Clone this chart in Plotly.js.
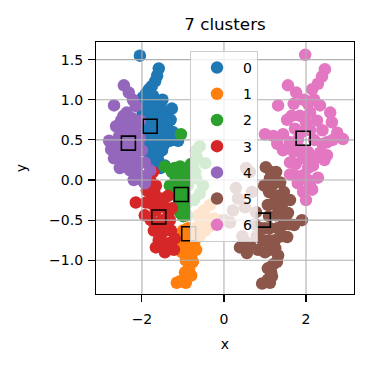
<!DOCTYPE html>
<html><head><meta charset="utf-8">
<script src="https://cdn.plot.ly/plotly-3.0.1.min.js"></script>
<style>html,body{margin:0;padding:0;background:#fff}</style>
</head><body><div id="chart" style="width:369px;height:369px"></div>
<script>
const clusterNames = ['0','1','2','3','4','5','6'];
const clusterColors = ['#1f77b4','#ff7f0e','#2ca02c','#d62728','#9467bd','#8c564b','#e377c2'];

const x0 = [-2.05,-1.59,-1.63,-1.68,-1.76,-1.83,-1.90,-1.98,-1.73,-1.80,-1.93,-1.68,-1.51,-1.61,-1.41,-1.80,-1.93,-1.49,-1.37,-1.63,-1.44,-1.32,-1.12,-1.56,-1.80,-1.88,-1.68,-1.51,-1.80,-1.61,-1.44,-1.88,-1.98,-2.00,-1.27,
  -1.85,-1.70,-1.55,-1.75,-1.65,-1.72,-1.55,-1.45,-1.35,-1.25,-1.95,-1.75,-1.60,-1.70,-1.55,-1.85,-1.50,-1.40,-1.30];
const y0 = [1.55,1.39,1.30,1.23,1.17,1.13,1.08,1.03,1.05,0.97,0.93,0.89,0.84,0.78,0.77,0.80,0.74,0.69,0.64,0.62,0.56,0.49,0.49,0.49,0.56,0.43,0.39,0.37,0.31,0.25,0.18,0.68,0.84,0.62,0.89,
  0.90,0.95,0.92,0.80,0.70,0.58,0.62,0.45,0.55,0.60,0.50,0.45,0.33,0.20,0.15,0.78,1.00,0.70,0.75];

const x1 = [-1.00,-0.88,-0.78,-1.12,-0.93,-0.73,-1.02,-0.83,-0.68,-0.93,-0.76,-0.85,-0.80,-0.95,-1.07,-1.15,-0.93,-0.63,-0.49,-0.39,-0.59,-0.46,-0.24,-0.10,-0.34,-0.59,
  -0.95,-0.85,-0.90,-0.80,-0.70,-0.50,-0.35];
const y1 = [-0.63,-0.60,-0.69,-0.77,-0.79,-0.81,-0.90,-0.90,-0.87,-1.00,-1.02,-1.10,-1.19,-1.15,-1.26,-1.28,-1.28,-0.44,-0.38,-0.48,-0.56,-0.63,-0.48,-0.50,-0.31,-0.70,
  -0.70,-0.75,-0.95,-0.95,-0.60,-0.50,-0.58];

const x2 = [-1.05,-1.44,-1.27,-1.07,-0.93,-1.17,-0.95,-0.83,-1.32,-1.07,-0.88,-1.17,-0.95,-1.12,-0.93,-1.07,-0.90,-0.68,-0.59,-0.66,-0.76,-0.68,-0.51,-0.59,-0.73,-0.46,
  -1.00,-1.10,-0.85,-1.00,-1.20,-0.80,-0.70];
const y2 = [0.57,0.17,0.10,0.17,0.12,0.02,0.02,0.10,-0.07,-0.10,-0.07,-0.19,-0.19,-0.31,-0.31,-0.41,-0.44,0.37,0.42,0.28,0.18,0.02,-0.07,-0.17,-0.25,0.21,
  0.05,-0.20,-0.25,-0.45,0.15,0.20,0.10];

const x3 = [-1.73,-1.80,-1.66,-1.88,-2.15,-1.90,-1.76,-1.54,-1.37,-1.46,-1.27,-1.66,-1.78,-1.93,-1.51,-1.32,-1.71,-1.49,-1.29,-1.20,-1.59,-1.39,-1.66,-1.22,-1.44,
  -1.60,-1.45,-1.60,-1.35,-1.55,-1.30,-1.75,-1.70];
const y3 = [0.10,0.00,-0.07,-0.13,-0.28,-0.28,-0.22,-0.23,-0.20,-0.33,-0.35,-0.38,-0.50,-0.44,-0.50,-0.50,-0.63,-0.65,-0.63,-0.73,-0.75,-0.79,-0.84,-0.87,-0.90,
  -0.30,-0.55,-0.55,-0.40,-0.75,-0.78,-0.30,-0.15];

const x4 = [-2.44,-2.32,-2.22,-2.68,-2.15,-2.37,-2.51,-2.24,-2.05,-2.63,-2.39,-2.15,-2.80,-2.56,-2.34,-2.05,-2.63,-2.44,-2.22,-2.00,-2.68,-2.41,-2.17,-1.93,-2.54,-2.29,-2.05,-1.93,-1.80,-2.10,
  -2.45,-2.30,-2.50,-2.20,-2.40,-2.60,-2.30,-2.10,-2.50,-2.35,-2.15,-2.00,-2.20,-1.90,-2.75,-2.55];
const y4 = [1.18,1.09,1.00,0.93,0.92,0.84,0.74,0.77,0.74,0.67,0.64,0.62,0.49,0.54,0.49,0.52,0.39,0.37,0.39,0.37,0.27,0.25,0.27,0.22,0.15,0.12,0.06,-0.04,0.12,0.18,
  0.80,0.65,0.55,0.55,0.45,0.45,0.35,0.45,0.30,0.20,0.10,0.00,0.00,0.05,0.38,0.65];

const x5 = [1.02,1.27,1.12,1.37,0.98,1.46,1.24,1.61,1.41,1.07,1.56,1.27,1.90,1.71,1.44,1.12,1.54,1.24,0.95,0.63,0.39,0.56,0.83,1.12,1.32,1.29,1.07,1.17,1.07,0.93,1.12,0.63,0.54,0.29,0.34,0.15,0.00,0.68,0.51,0.78,0.22,
  1.15,1.20,1.10,1.35,1.20,1.35,1.10,1.45,1.60,1.30,1.00,1.40,1.10,0.80,1.25,1.00,1.20,1.15,0.90,0.75,0.45,0.55];
const y5 = [0.16,0.10,0.02,-0.03,-0.07,-0.15,-0.19,-0.25,-0.31,-0.31,-0.41,-0.44,-0.50,-0.56,-0.56,-0.60,-0.71,-0.75,-0.75,-0.81,-0.84,-0.91,-0.87,-0.87,-0.94,-1.02,-1.10,-1.20,-1.24,-1.29,-1.28,0.10,0.15,-0.10,-0.23,-0.53,-0.50,-0.15,-0.34,-0.40,-0.38,
  0.10,-0.05,-0.15,-0.20,-0.30,-0.40,-0.45,-0.45,-0.55,-0.60,-0.60,-0.70,-0.75,-0.70,-0.85,-0.90,-1.05,-1.15,-0.60,-0.55,-0.70,-0.78];

const x6 = [1.98,2.46,2.39,2.29,2.15,1.56,1.76,1.95,1.32,2.34,2.59,1.54,1.85,2.10,2.27,2.63,1.00,1.44,1.73,2.10,2.76,2.90,2.51,1.61,1.44,1.85,2.34,1.61,1.93,2.17,2.51,1.61,1.93,2.29,2.10,1.93,2.00,1.80,
  1.70,2.05,2.20,1.65,2.00,2.40,1.90,1.80,2.20,2.40,2.65,1.70,2.05,2.20,1.75,2.05,1.75,2.05,2.15,1.20,1.30,2.45];
const y6 = [1.56,1.38,1.29,1.20,1.13,1.18,1.09,1.00,0.93,0.93,0.84,0.75,0.80,0.84,0.74,0.72,0.57,0.57,0.64,0.62,0.59,0.51,0.47,0.47,0.37,0.39,0.34,0.22,0.27,0.18,0.31,0.07,0.06,0.03,-0.07,-0.15,-0.25,-0.04,
  0.95,0.95,1.00,0.80,0.72,0.62,0.60,0.50,0.50,0.45,0.50,0.35,0.35,0.25,0.20,0.15,0.05,0.00,-0.12,0.55,0.45,0.25];

const clusterX = [x0,x1,x2,x3,x4,x5,x6];
const clusterY = [y0,y1,y2,y3,y4,y5,y6];

const centroidX = [-1.80,-0.86,-1.04,-1.59,-2.33,0.96,1.93];
const centroidY = [0.67,-0.67,-0.18,-0.46,0.46,-0.50,0.52];

const xTicks = [-2,0,2];
const yTicks = [-1.0,-0.5,0.0,0.5,1.0,1.5];

const font = 'DejaVu Sans, sans-serif';

const traces = clusterNames.map((n,i)=>({
  type:'scatter', mode:'markers', name:n, legendgroup:'g'+i,
  x: clusterX[i], y: clusterY[i],
  marker:{color:clusterColors[i], size:12.5, line:{width:0}},
  hoverinfo:'skip'
}));
traces.push({
  type:'scatter', mode:'markers', x:centroidX, y:centroidY, showlegend:false,
  marker:{symbol:'square', size:14, color:'rgba(0,0,0,0)', line:{color:'#000', width:1.6}},
  hoverinfo:'skip'
});

const shapes = [];
xTicks.forEach(v=>shapes.push({type:'line', xref:'x', yref:'paper', x0:v, x1:v, y0:0, y1:1, layer:'above', line:{color:'#b0b0b0', width:1.1}}));
yTicks.forEach(v=>shapes.push({type:'line', xref:'paper', yref:'y', x0:0, x1:1, y0:v, y1:v, layer:'above', line:{color:'#b0b0b0', width:1.1}}));

const axisCommon = {
  showgrid:false, zeroline:false, showline:true, mirror:true, linecolor:'#000', linewidth:1.1,
  ticks:'outside', ticklen:7, tickwidth:1.1, tickcolor:'#000',
  tickfont:{family:font, size:14, color:'#000'}, layer:'above traces'
};

const layout = {
  width:369, height:369,
  margin:{l:96, r:15, t:42, b:75},
  paper_bgcolor:'#fff', plot_bgcolor:'#fff',
  font:{family:font, color:'#000'},
  title:{text:'7 clusters', font:{family:font, size:16.7, color:'#000'}, x:0.5, xref:'paper', xanchor:'center', y:1-24/369, yref:'container', yanchor:'middle'},
  xaxis:Object.assign({}, axisCommon, {range:[-3.12,3.17], tickvals:xTicks, ticktext:xTicks.map(v=>v<0?'\u2212'+Math.abs(v):String(v)),
    ticklabelstandoff:5,
    title:{text:'x', font:{family:font, size:14, color:'#000'}, standoff:13}}),
  yaxis:Object.assign({}, axisCommon, {range:[-1.42,1.72], tickvals:yTicks, ticktext:yTicks.map(v=>(v<0?'\u2212':'')+Math.abs(v).toFixed(1)),
    ticklabelstandoff:2,
    title:{text:'y', font:{family:font, size:14, color:'#000'}, standoff:19}}),
  shapes:shapes,
  showlegend:true,
  legend:{x:(190-96)/258, y:(294-51)/252, xanchor:'left', yanchor:'top', bgcolor:'rgba(255,255,255,0.8)', bordercolor:'#cccccc', borderwidth:1,
    font:{family:font, size:14, color:'#000'}, itemwidth:42, traceorder:'grouped', tracegroupgap:5}
};

Plotly.newPlot('chart', traces, layout, {displayModeBar:false, staticPlot:true});
</script></body></html>
